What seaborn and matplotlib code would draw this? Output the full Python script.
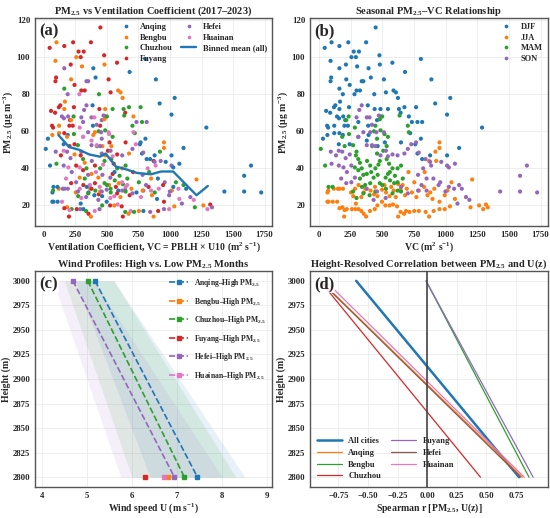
import numpy as np
import pandas as pd
import seaborn as sns
import matplotlib.pyplot as plt

########## Data ##########
cities = ['Anqing', 'Bengbu', 'Chuzhou', 'Fuyang', 'Hefei', 'Huainan']
code = {'A': 'Anqing', 'B': 'Bengbu', 'C': 'Chuzhou', 'F': 'Fuyang', 'H': 'Hefei', 'N': 'Huainan'}
seasons = ['DJF', 'JJA', 'MAM', 'SON']

# (VC, PM2.5, city) monthly points, grouped by season
djf = [
    (448, 116, 'F'), (46, 105, 'F'), (100, 108, 'B'), (162, 106, 'F'), (232, 108, 'F'), (373, 108, 'F'),
    (257, 100, 'B'), (275, 103, 'F'), (316, 103, 'F'), (478, 101, 'F'), (92, 98, 'B'), (805, 99, 'A'),
    (292, 100, 'F'), (213, 96, 'F'), (302, 95, 'B'), (392, 94, 'A'), (162, 94, 'H'), (580, 97, 'F'),
    (481, 96, 'B'), (680, 92, 'A'), (97, 89, 'F'), (92, 87, 'F'), (216, 88, 'B'), (338, 87, 'H'),
    (351, 87, 'H'), (410, 89, 'A'), (513, 88, 'F'), (888, 88, 'A'), (162, 83, 'C'), (243, 85, 'F'),
    (297, 82, 'F'), (324, 82, 'F'), (437, 80, 'C'), (529, 81, 'F'), (589, 82, 'B'), (608, 81, 'B'),
    (624, 78, 'B'), (1037, 78, 'A'), (189, 80, 'H'), (281, 80, 'N'), (918, 75, 'A'), (167, 76, 'B'),
    (130, 74, 'F'), (119, 73, 'F'), (57, 71, 'F'), (89, 70, 'F'), (162, 72, 'B'), (238, 73, 'F'),
    (386, 74, 'A'), (440, 72, 'F'), (486, 72, 'B'), (545, 72, 'C'), (632, 72, 'C'), (645, 70, 'F'),
    (710, 68, 'B'), (675, 73, 'C'), (767, 73, 'C'), (1012, 69, 'A'), (143, 68, 'H'), (159, 67, 'H'),
    (192, 68, 'H'), (208, 66, 'F'), (65, 63, 'F'), (73, 62, 'F'), (121, 63, 'B'), (202, 63, 'F'),
    (229, 63, 'F'), (311, 65, 'H'), (389, 63, 'A'), (459, 66, 'H'), (486, 68, 'F'), (734, 65, 'H'),
    (778, 65, 'C'), (815, 65, 'H'), (1288, 62, 'A'), (32, 56, 'A'), (67, 58, 'B'), (121, 59, 'B'),
    (162, 59, 'F'), (189, 58, 'A'), (311, 57, 'N'), (392, 58, 'B'), (721, 59, 'C'), (761, 53, 'A'),
    (805, 56, 'A'), (1107, 51, 'A'), (157, 53, 'A'), (243, 53, 'F'), (378, 55, 'N'), (464, 52, 'B'),
    (521, 54, 'F'), (648, 54, 'F'), (778, 48, 'A'), (815, 45, 'A'), (878, 47, 'A'), (1012, 47, 'A'),
]
jja = [
    (150, 29, 'H'), (163, 29, 'H'), (190, 29, 'H'), (68, 27, 'A'), (76, 22, 'A'), (109, 22, 'A'),
    (144, 22, 'N'), (185, 19, 'B'), (199, 14, 'F'), (220, 18, 'C'), (261, 18, 'F'), (288, 18, 'H'),
    (313, 18, 'A'), (335, 17, 'C'), (354, 15.5, 'F'), (373, 14, 'B'), (403, 17, 'N'), (441, 18, 'H'),
    (462, 20, 'C'), (498, 22, 'A'), (525, 20, 'F'), (558, 20, 'B'), (585, 20.5, 'N'), (617, 19.5, 'F'),
    (626, 14, 'F'), (645, 16.5, 'C'), (672, 15.5, 'B'), (688, 17, 'N'), (715, 16.5, 'C'), (753, 17, 'B'),
    (789, 17, 'A'), (843, 16.5, 'H'), (870, 14, 'B'), (906, 17, 'F'), (952, 18, 'H'), (993, 18, 'N'),
    (1034, 19.5, 'B'), (1197, 19, 'C'), (1265, 20, 'B'), (1297, 18, 'N'), (1319, 20.5, 'F'), (1333, 19, 'H'),
    (253, 27, 'B'), (272, 25, 'C'), (285, 29, 'N'), (313, 31, 'F'), (335, 24.5, 'H'), (354, 27, 'A'),
    (367, 29, 'B'), (408, 28, 'C'), (435, 26, 'F'), (443, 30, 'N'), (462, 25, 'A'), (498, 28.5, 'H'),
    (517, 31, 'B'), (530, 27, 'C'), (558, 25, 'N'), (571, 30, 'F'), (590, 28, 'A'), (607, 24.5, 'B'),
    (626, 31.5, 'C'), (645, 28.5, 'H'), (661, 31, 'N'), (680, 25.5, 'F'), (694, 29, 'B'), (734, 27, 'A'),
    (753, 32.5, 'C'), (770, 24.5, 'N'), (789, 28, 'H'), (830, 30, 'F'), (857, 25.5, 'B'), (879, 27, 'C'),
    (897, 23.5, 'A'), (911, 29, 'N'), (952, 22, 'F'), (993, 25.5, 'H'), (1015, 28, 'B'), (1047, 32.5, 'C'),
    (1074, 23.5, 'N'), (1210, 34, 'B'), (707, 38, 'F'), (835, 38, 'C'), (952, 51, 'B'), (952, 54, 'B'),
    (920, 49, 'C'), (870, 44, 'F'), (926, 44, 'H'), (67, 22, 'A'), (162, 18.5, 'F'), (203, 17.5, 'N'),
    (292, 21, 'A'), (73, 28, 'C'), (118, 29, 'B'),
]
mam = [
    (15, 50.5, 'A'), (49, 41.5, 'A'), (76, 30, 'A'), (108, 30, 'A'), (235, 68, 'C'), (216, 66, 'B'),
    (238, 58.5, 'C'), (284, 62, 'N'), (184, 57, 'B'), (203, 52, 'F'), (270, 52.5, 'C'), (297, 49, 'H'),
    (292, 47, 'F'), (311, 45, 'C'), (324, 43, 'B'), (284, 40.5, 'N'), (338, 40, 'C'), (311, 39, 'F'),
    (351, 36.5, 'H'), (324, 34.5, 'C'), (378, 37, 'B'), (405, 41.5, 'F'), (413, 38, 'N'), (446, 40, 'C'),
    (464, 36.5, 'H'), (432, 35, 'B'), (481, 32, 'C'), (405, 32, 'F'), (365, 31, 'N'), (500, 31, 'C'),
    (527, 35, 'H'), (545, 37, 'F'), (562, 33.5, 'C'), (594, 32, 'B'), (621, 32.5, 'N'), (662, 34.5, 'C'),
    (459, 48, 'H'), (481, 44, 'C'), (508, 49.5, 'F'), (535, 52, 'B'), (545, 57, 'C'), (518, 58.5, 'N'),
    (486, 60.5, 'C'), (481, 66.5, 'B'), (500, 68, 'C'), (446, 63, 'F'), (459, 56, 'H'), (535, 45, 'C'),
    (554, 42.5, 'F'), (581, 40, 'C'), (621, 40, 'B'), (648, 41.5, 'C'), (702, 63, 'C'), (710, 59.5, 'N'),
    (529, 29, 'C'), (581, 26.5, 'F'), (621, 28, 'H'), (648, 27.5, 'C'), (400, 25.5, 'A'), (446, 27.5, 'B'),
    (351, 26.5, 'C'), (297, 24, 'N'), (270, 27.5, 'H'), (637, 68.5, 'C'), (435, 60, 'C'), (560, 38, 'A'),
    (380, 44, 'H'), (420, 52, 'C'), (340, 30, 'A'), (600, 36, 'C'), (470, 42, 'N'),
]
son = [
    (319, 71.5, 'H'), (338, 74, 'H'), (297, 67.5, 'H'), (378, 67.5, 'H'), (400, 67.5, 'N'), (419, 63.5, 'H'),
    (473, 68.5, 'H'), (311, 57, 'N'), (351, 59.5, 'H'), (405, 59.5, 'B'), (454, 59.5, 'H'), (513, 59.5, 'N'),
    (157, 49.5, 'N'), (184, 49, 'H'), (135, 47, 'F'), (211, 45.5, 'H'), (243, 47.5, 'B'), (94, 49, 'H'),
    (100, 42.5, 'C'), (157, 41.5, 'H'), (194, 40.5, 'N'), (256, 41.5, 'F'), (221, 38, 'H'), (176, 34.5, 'N'),
    (216, 32, 'F'), (256, 32.5, 'H'), (284, 35, 'B'), (378, 52.5, 'H'), (419, 52.5, 'N'), (446, 52, 'H'),
    (486, 47, 'B'), (529, 49.5, 'H'), (545, 46.5, 'N'), (581, 47.5, 'F'), (621, 47, 'H'), (675, 48, 'B'),
    (702, 50.5, 'H'), (729, 53, 'N'), (767, 54, 'A'), (788, 48.5, 'H'), (842, 45, 'A'), (878, 43.5, 'H'),
    (886, 41.5, 'N'), (966, 43.5, 'A'), (1012, 41.5, 'H'), (1026, 40.5, 'A'), (1074, 42.5, 'A'), (823, 40, 'N'),
    (783, 36.5, 'H'), (850, 34.5, 'B'), (904, 34.5, 'A'), (958, 32.5, 'H'), (1026, 30, 'A'), (1107, 31, 'C'),
    (1128, 29, 'A'), (1161, 24.5, 'H'), (1188, 23, 'N'), (1431, 27.5, 'A'), (1588, 36, 'A'), (1642, 41.5, 'A'),
    (1588, 27.5, 'A'), (1723, 27, 'A'), (432, 23, 'H'), (527, 24, 'N'), (378, 29, 'F'), (459, 27.5, 'H'),
    (648, 30, 'N'), (702, 26.5, 'H'), (783, 28, 'B'), (810, 31, 'H'), (850, 28, 'N'), (945, 31, 'F'),
    (999, 27.5, 'H'), (1067, 29, 'N'), (1094, 21, 'H'),
]

# binned mean line, panel (a)
bin_vc = [115, 200, 280, 360, 445, 490, 570, 650, 740, 850, 930, 1025, 1210, 1300]
bin_pm = [58, 51.5, 50, 47.5, 46.3, 48, 41, 39.5, 37.5, 36.8, 38.3, 38.3, 25.5, 30.5]

# wind profiles, panel (c)
heights = [3000, 2800]
u_mean = {'Anqing': [5.18, 7.45], 'Bengbu': [np.nan, 6.79], 'Chuzhou': [5.02, 7.16],
          'Fuyang': [np.nan, 6.29], 'Hefei': [4.69, 6.94], 'Huainan': [np.nan, 6.71]}
u_low = {'Anqing': [4.75, 6.4], 'Chuzhou': [4.5, 6.0], 'Hefei': [4.25, 5.75]}
u_high = {'Anqing': [5.6, 8.5], 'Chuzhou': [5.6, 8.3], 'Hefei': [5.15, 8.0]}

# spearman r vs height, panel (d)
corr_names = ['All cities', 'Anqing', 'Bengbu', 'Chuzhou', 'Fuyang', 'Hefei', 'Huainan']
corr_r = {'All cities': [-0.60, 0.776], 'Anqing': [-0.90, 0.805], 'Bengbu': [-0.01, 0.86],
          'Chuzhou': [-0.905, 0.45], 'Fuyang': [-0.01, 0.895], 'Hefei': [-0.905, 0.79],
          'Huainan': [-0.86, 0.82]}

########## Style ##########
sns.set_theme(style='whitegrid')
plt.rcParams['font.family'] = ['Liberation Serif', 'DejaVu Serif']
plt.rcParams['font.weight'] = 'bold'
plt.rcParams['axes.labelweight'] = 'bold'
plt.rcParams['axes.titleweight'] = 'bold'
plt.rcParams['mathtext.fontset'] = 'custom'
plt.rcParams['mathtext.rm'] = 'Liberation Serif:bold'
plt.rcParams['mathtext.bf'] = 'Liberation Serif:bold'
plt.rcParams['mathtext.it'] = 'Liberation Serif:italic:bold'
plt.rcParams['mathtext.default'] = 'bf'

tab = sns.color_palette('tab10')
city_pal = dict(zip(cities, [tab[0], tab[1], tab[2], tab[3], tab[4], tab[6]]))
season_pal = dict(zip(seasons, [tab[0], tab[1], tab[2], tab[4]]))

rows = []
for s, pts in zip(seasons, [djf, jja, mam, son]):
    for vc, pm, c in pts:
        rows.append({'vc': vc, 'pm': pm, 'city': code[c], 'season': s})
df = pd.DataFrame(rows)

fig = plt.figure(figsize=(5.5, 5.18), dpi=100)
ax_a = fig.add_axes([0.0636, 0.5637, 0.4309, 0.4015])
ax_b = fig.add_axes([0.5636, 0.5637, 0.4327, 0.4015])
ax_c = fig.add_axes([0.0636, 0.0598, 0.4309, 0.417])
ax_d = fig.add_axes([0.5636, 0.0598, 0.4327, 0.417])

pm_lab = 'PM$_{2.5}$ (μg m$^{-3}$)'
LAB = 7
TICK = 6.3


def style(ax, letter):
    for sp in ax.spines.values():
        sp.set_color('#555555')
        sp.set_linewidth(1.0)
    ax.grid(color='#e8e8e8', linewidth=0.5)
    ax.tick_params(labelsize=TICK, length=2, width=0.6, pad=1.5, color='#555555')
    ax.text(0.02, 0.975, letter, transform=ax.transAxes, fontsize=12, fontweight='bold',
            va='top', ha='left', zorder=10,
            bbox=dict(facecolor='white', edgecolor='none', pad=0.3, alpha=0.85))


########## (a) scatter by city ##########
sns.scatterplot(data=df, x='vc', y='pm', hue='city', hue_order=cities, palette=city_pal,
                s=9, linewidth=0, ax=ax_a)
ax_a.plot(bin_vc, bin_pm, color=tab[0], lw=1.7, label='Binned mean (all)')
ax_a.set_xticks([0, 250, 500, 750, 1000, 1250, 1500, 1750])
ax_a.set_yticks([20, 40, 60, 80, 100, 120])
ax_a.set_xlabel('Ventilation Coefficient, VC = PBLH × U10 (m$^{2}$ s$^{-1}$)', fontsize=LAB, labelpad=1)
ax_a.set_ylabel(pm_lab, fontsize=LAB, labelpad=1)
ax_a.set_title('PM$_{2.5}$ vs Ventilation Coefficient (2017–2023)', fontsize=7.5, pad=3)
ax_a.legend(ncol=2, frameon=False, loc='upper right', fontsize=6, handlelength=1.8,
            columnspacing=1.0, labelspacing=0.3, borderaxespad=0.2, markerscale=0.9)
style(ax_a, '(a)')

########## (b) scatter by season ##########
sns.scatterplot(data=df, x='vc', y='pm', hue='season', hue_order=seasons, palette=season_pal,
                s=9, linewidth=0, ax=ax_b)
ax_b.set_xticks([0, 250, 500, 750, 1000, 1250, 1500, 1750])
ax_b.set_yticks([20, 40, 60, 80, 100, 120])
ax_b.set_xlabel('VC (m$^{2}$ s$^{-1}$)', fontsize=LAB, labelpad=1)
ax_b.set_ylabel(pm_lab, fontsize=LAB, labelpad=1)
ax_b.set_title('Seasonal PM$_{2.5}$–VC Relationship', fontsize=7.5, pad=3)
ax_b.legend(frameon=False, loc='upper right', fontsize=6, labelspacing=0.3,
            borderaxespad=0.2, markerscale=0.9)
style(ax_b, '(b)')

########## (c) wind profiles ##########
for c in cities:
    if c in u_low:
        ax_c.fill_betweenx(heights, u_low[c], u_high[c], color=city_pal[c], alpha=0.1, linewidth=0)
for c in cities:
    ax_c.plot(u_mean[c], heights, ls='--', marker='s', ms=3, lw=1.2, color=city_pal[c],
              label=c + '–High PM$_{2.5}$')
ax_c.set_xlim(3.85, 9.1)
ax_c.set_xticks([4, 5, 6, 7, 8, 9])
ax_c.set_yticks(range(2800, 3001, 25))
ax_c.set_xlabel('Wind speed U (m s$^{-1}$)', fontsize=LAB, labelpad=1)
ax_c.set_ylabel('Height (m)', fontsize=LAB, labelpad=1)
ax_c.set_title('Wind Profiles: High vs. Low PM$_{2.5}$ Months', fontsize=7.5, pad=3)
ax_c.legend(frameon=False, loc='upper right', fontsize=5.5, labelspacing=0.85,
            handlelength=2.4, borderaxespad=0.4)
style(ax_c, '(c)')

########## (d) height-resolved correlation ##########
corr_cols = dict(zip(corr_names, [tab[0], tab[1], tab[2], tab[3], tab[4], tab[5], tab[6]]))
for n in corr_names:
    ax_d.plot(corr_r[n], heights, color=corr_cols[n], lw=1.8 if n == 'All cities' else 0.9, label=n)
ax_d.axvline(0, color='#444444', lw=1.2, zorder=5)
ax_d.set_xlim(-0.99, 1.02)
ax_d.set_xticks([-0.75, -0.5, -0.25, 0, 0.25, 0.5, 0.75])
ax_d.set_xticklabels(['−0.75', '−0.50', '−0.25', '0.00', '0.25', '0.50', '0.75'])
ax_d.set_yticks(range(2800, 3001, 25))
ax_d.set_xlabel('Spearman r [PM$_{2.5}$, U(z)]', fontsize=LAB, labelpad=1)
ax_d.set_ylabel('Height (m)', fontsize=LAB, labelpad=1)
ax_d.set_title('Height-Resolved Correlation between PM$_{2.5}$ and U(z)', fontsize=7.5, pad=3)
ax_d.legend(ncol=2, frameon=False, loc='lower left', fontsize=6, handlelength=3,
            columnspacing=1.2, labelspacing=0.45, borderaxespad=0.4)
style(ax_d, '(d)')

fig.savefig('out.png', dpi=100)
